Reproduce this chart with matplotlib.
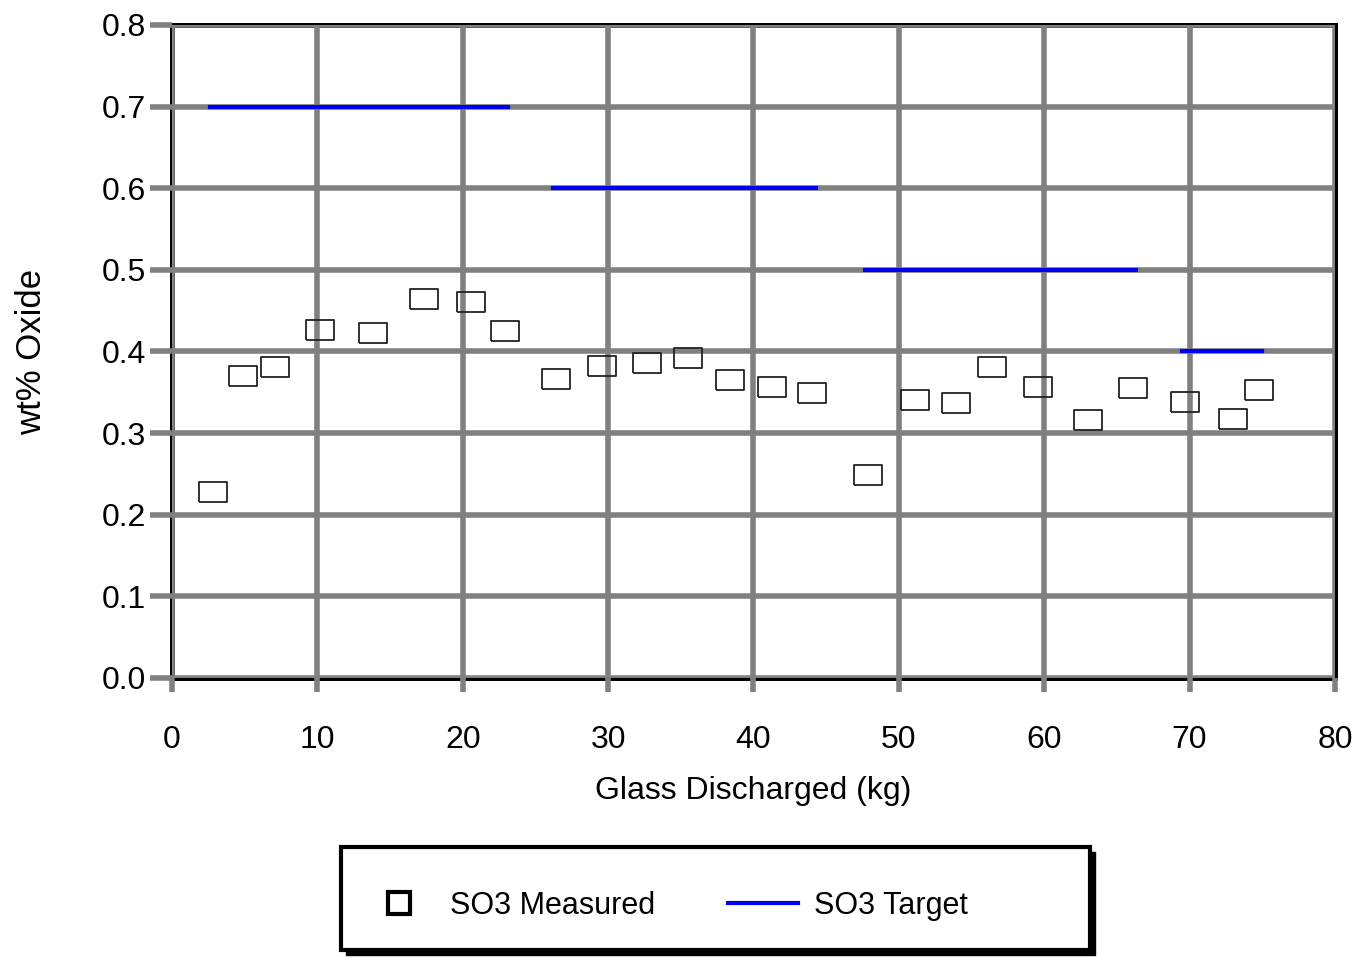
import matplotlib
matplotlib.use("Agg")
import matplotlib.pyplot as plt
from matplotlib.patches import Rectangle
from matplotlib.lines import Line2D

plt.rcParams['font.family'] = ['Liberation Sans', 'DejaVu Sans']

# Measured data
meas_x = [2.8, 4.9, 7.1, 10.2, 13.8, 17.3, 20.6, 22.9, 26.4, 29.6, 32.7, 35.5,
          38.4, 41.3, 44.0, 47.9, 51.1, 53.9, 56.4, 59.6, 63.0, 66.1, 69.7, 73.0, 74.8]
meas_y = [0.228, 0.370, 0.381, 0.426, 0.423, 0.464, 0.461, 0.425, 0.366, 0.382, 0.386, 0.392,
          0.365, 0.357, 0.349, 0.249, 0.341, 0.337, 0.381, 0.357, 0.316, 0.355, 0.338, 0.317, 0.353]

# Target segments
target_start = [2.6, 26.2, 47.7, 69.5]
target_end = [23.1, 44.3, 66.3, 75.0]
target_val = [0.7, 0.6, 0.5, 0.4]

xticks = [0, 10, 20, 30, 40, 50, 60, 70, 80]
yticks = [0.0, 0.1, 0.2, 0.3, 0.4, 0.5, 0.6, 0.7, 0.8]

fig = plt.figure(figsize=(13.58, 9.58), dpi=100)
ax = fig.add_axes([0.1267, 0.2923, 0.8563, 0.6817])

ax.set_xlim(0, 80)
ax.set_ylim(0, 0.8)
ax.set_xticks(xticks)
ax.set_yticks(yticks)
ax.set_yticklabels([f"{v:.1f}" for v in yticks])
ax.grid(True, color='#808080', linewidth=4, zorder=1)
ax.set_axisbelow(True)
for s in ax.spines.values():
    s.set_linewidth(3.6)
    s.set_color('black')
    s.set_zorder(0.5)
ax.tick_params(axis='y', length=16, width=4, color='#808080', labelsize=23, pad=3)
ax.tick_params(axis='x', length=10, width=4, color='#808080', labelsize=23, pad=24)

rect = [(-1.35, -1), (1.35, -1), (1.35, 1), (-1.35, 1), (-1.35, -1)]
ax.plot(meas_x, meas_y, linestyle='none', marker=rect, markersize=19.5,
        markerfacecolor='none', markeredgecolor='#222222', markeredgewidth=1.3,
        zorder=4, clip_on=False)

for a, b, v in zip(target_start, target_end, target_val):
    ax.plot([a, b], [v, v], color='#0000ee', linewidth=3, zorder=3)

ax.set_xlabel('Glass Discharged (kg)', fontsize=23, labelpad=15)
ax.set_ylabel('wt% Oxide', fontsize=25, labelpad=38)

# Legend frame with shadow
lx, ly, lw, lh = 341/1358, 1 - 950/958, 749/1358, 103/958
shadow = Rectangle((lx + 5/1358, ly - 5/958), lw, lh, transform=fig.transFigure,
                   facecolor='black', edgecolor='black', zorder=0)
frame = Rectangle((lx, ly), lw, lh, transform=fig.transFigure,
                  facecolor='white', edgecolor='black', linewidth=3, zorder=1)
fig.patches.append(shadow)
fig.patches.append(frame)

h1 = Line2D([], [], linestyle='none', marker='s', markersize=16,
            markerfacecolor='white', markeredgecolor='black', markeredgewidth=3)
h2 = Line2D([], [], color='#0000ee', linewidth=3)
leg = fig.legend([h1, h2], ['SO3 Measured', 'SO3 Target'], loc='center left',
                 bbox_to_anchor=(364/1358, 1 - 906/958), ncol=2,
                 fontsize=22, frameon=False, handlelength=2.3,
                 handletextpad=0.5, columnspacing=2.4, borderpad=0, borderaxespad=0)
leg.set_zorder(5)

fig.savefig('out.png', dpi=100)
